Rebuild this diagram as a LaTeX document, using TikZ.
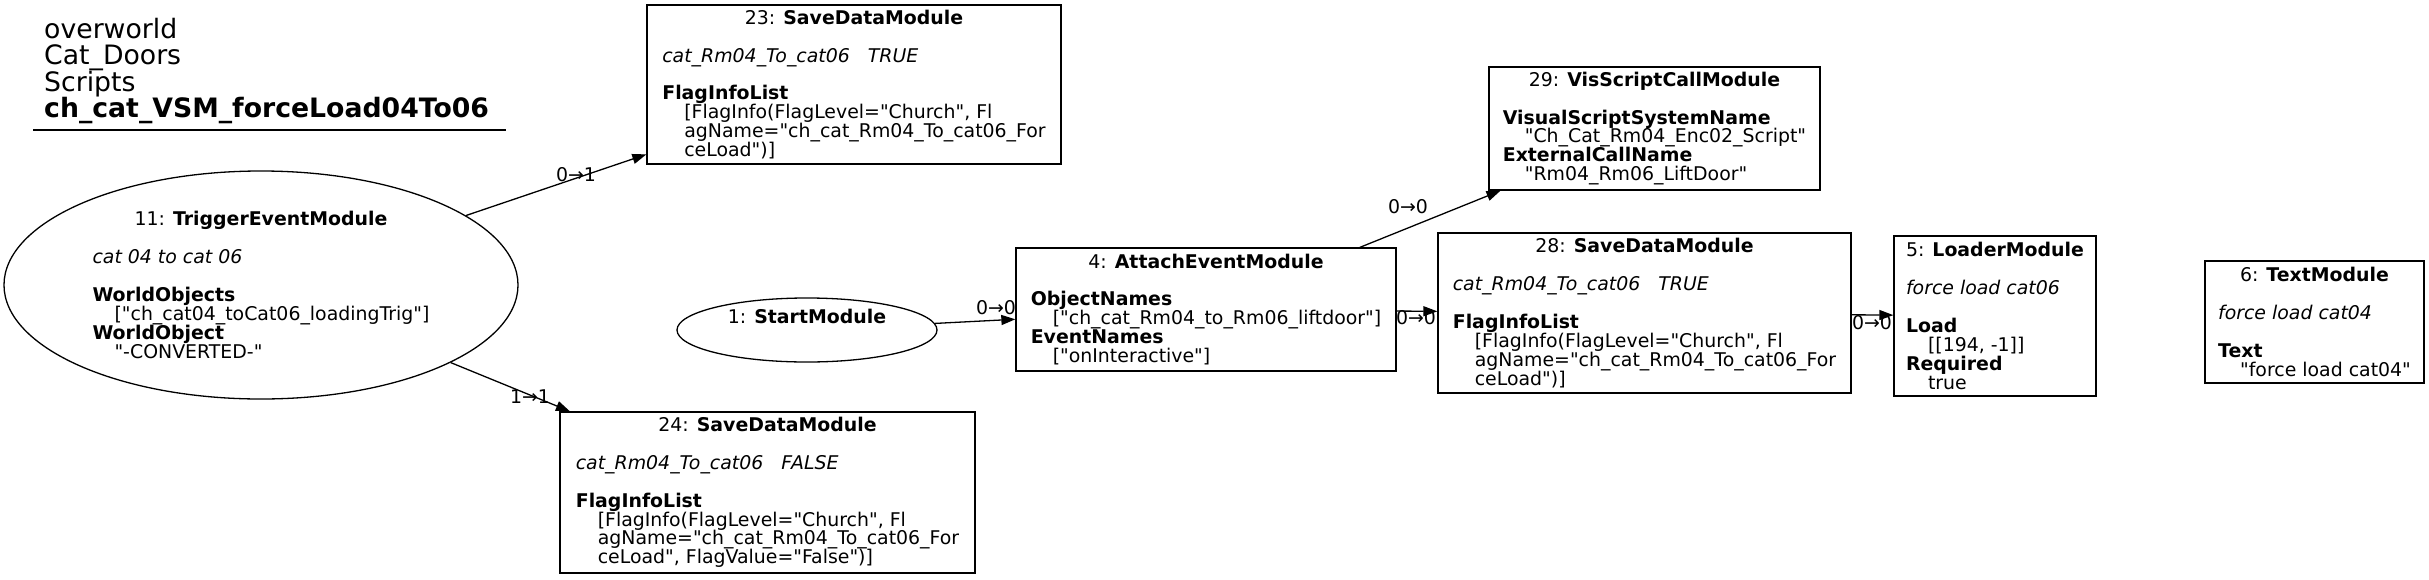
\documentclass[tikz,border=0pt]{standalone}
\usepackage{fontspec}
\setmainfont{DejaVu Sans}[Ligatures=TeXOff]
\usetikzlibrary{arrows.meta,shapes.geometric}
\newcommand{\nodefont}{\fontsize{18.9}{18.9}\selectfont}
\newcommand{\ind}{\hspace*{22pt}}
\newcommand{\hdr}[1]{\hfill#1\hfill}
\newcommand{\textlines}[1]{\vbox{\baselineskip=18.9pt\lineskiplimit=-100pt\lineskip=0pt\tabskip=0pt\halign{##\hfil\cr#1\crcr}}}
\tikzset{
  box/.style={draw, line width=1.3pt, rectangle, inner sep=0pt, font=\nodefont},
  oval/.style={draw, line width=1.3pt, ellipse, inner sep=0pt, font=\nodefont},
  elabel/.style={font=\nodefont, inner sep=0pt},
  titletext/.style={font=\fontsize{26.7}{26.6}\selectfont, anchor=base west, inner sep=0pt},
  conn/.style={line width=1.3pt, -{Triangle[length=14pt,width=10pt]}},
}
\begin{document}
\begin{tikzpicture}[x=1pt,y=-1pt]
\useasboundingbox (0,0) rectangle (2429,579);
% title
\node[titletext] (t1) at (44,38) {overworld};
\node[titletext] (t2) at (44,64.6) {Cat\_Doors};
\node[titletext] (t3) at (44,91.2) {Scripts};
\node[titletext] (t4) at (44,117.8) {\bfseries ch\_cat\_VSM\_forceLoad04To06};
\draw[line width=1.3pt] (33,130) -- (506,130);

% nodes
\node[oval, minimum width=514pt, minimum height=228pt] (n11) at (261,285) {\textlines{
\hdr{11: \textbf{TriggerEventModule}}\cr
\cr
\textit{cat 04 to cat 06}\cr
\cr
\textbf{WorldObjects}\cr
\ind["ch\_cat04\_toCat06\_loadingTrig"]\cr
\textbf{WorldObject}\cr
\ind"-CONVERTED-"}};

\node[oval, minimum width=260pt, minimum height=64pt] (n1) at (807,330) {\smash{\raisebox{7pt}{1: \textbf{StartModule}}}};

\node[box, minimum width=414pt, minimum height=159pt] (n23) at (854,84.5) {\textlines{
\hdr{23: \textbf{SaveDataModule}}\cr
\cr
\textit{cat\_Rm04\_To\_cat06\ \ \ TRUE}\cr
\cr
\textbf{FlagInfoList}\cr
\ind[FlagInfo(FlagLevel="Church", Fl\cr
\ind agName="ch\_cat\_Rm04\_To\_cat06\_For\cr
\ind ceLoad")]}};

\node[box, minimum width=415pt, minimum height=161pt] (n24) at (767.5,492.5) {\textlines{
\hdr{24: \textbf{SaveDataModule}}\cr
\cr
\textit{cat\_Rm04\_To\_cat06\ \ \ FALSE}\cr
\cr
\textbf{FlagInfoList}\cr
\ind[FlagInfo(FlagLevel="Church", Fl\cr
\ind agName="ch\_cat\_Rm04\_To\_cat06\_For\cr
\ind ceLoad", FlagValue="False")]}};

\node[box, minimum width=380pt, minimum height=123pt] (n4) at (1206,309.5) {\textlines{
\hdr{4: \textbf{AttachEventModule}}\cr
\cr
\textbf{ObjectNames}\cr
\ind["ch\_cat\_Rm04\_to\_Rm06\_liftdoor"]\cr
\textbf{EventNames}\cr
\ind["onInteractive"]}};

\node[box, minimum width=331pt, minimum height=123pt] (n29) at (1654.5,128.5) {\textlines{
\hdr{29: \textbf{VisScriptCallModule}}\cr
\cr
\textbf{VisualScriptSystemName}\cr
\ind"Ch\_Cat\_Rm04\_Enc02\_Script"\cr
\textbf{ExternalCallName}\cr
\ind"Rm04\_Rm06\_LiftDoor"}};

\node[box, minimum width=413pt, minimum height=160pt] (n28) at (1644.5,313) {\textlines{
\hdr{28: \textbf{SaveDataModule}}\cr
\cr
\textit{cat\_Rm04\_To\_cat06\ \ \ TRUE}\cr
\cr
\textbf{FlagInfoList}\cr
\ind[FlagInfo(FlagLevel="Church", Fl\cr
\ind agName="ch\_cat\_Rm04\_To\_cat06\_For\cr
\ind ceLoad")]}};

\node[box, minimum width=202pt, minimum height=160pt] (n5) at (1995,316) {\textlines{
\hdr{5: \textbf{LoaderModule}}\cr
\cr
\textit{force load cat06}\cr
\cr
\textbf{Load}\cr
\ind[[194, -1]]\cr
\textbf{Required}\cr
\ind true}};

\node[box, minimum width=219pt, minimum height=122pt] (n6) at (2314.5,322) {\textlines{
\hdr{6: \textbf{TextModule}}\cr
\cr
\textit{force load cat04}\cr
\cr
\textbf{Text}\cr
\ind"force load cat04"}};

% connectors
\draw[conn] (n11) -- (n23);
\draw[conn] (n11) -- (n24);
\draw[conn] (n1) -- (n4);
\draw[conn] (n4) -- (n29);
\draw[conn] (n4) -- (n28);
\draw[conn] (n28) -- (n5);

% labels
\node[elabel] (l1) at (576,175) {0→1};
\node[elabel] (l2) at (530,397) {1→1};
\node[elabel] (l3) at (996,308) {0→0};
\node[elabel] (l4) at (1408,207) {0→0};
\node[elabel] (l5) at (1416,318) {0→0};
\node[elabel] (l6) at (1872,323) {0→0};
\end{tikzpicture}
\end{document}
